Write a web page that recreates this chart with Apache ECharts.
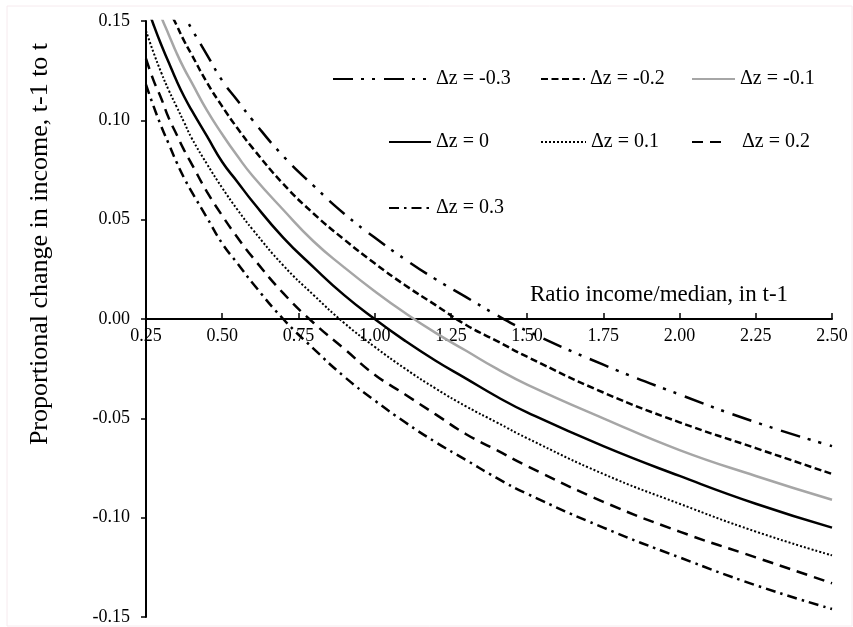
<!DOCTYPE html>
<html>
<head>
<meta charset="utf-8">
<script src="https://cdn.jsdelivr.net/npm/echarts@6/dist/echarts.min.js"></script>
<style>html,body{margin:0;padding:0;background:#fff}#c{width:853px;height:627px}</style>
</head>
<body>
<div id="c"></div>
<script>
// Ratio income/median in t-1 (x positions of read points)
var ratio = [0.25, 0.275, 0.3, 0.325, 0.35, 0.375, 0.4, 0.45, 0.5, 0.55, 0.6, 0.7, 0.8, 0.9, 1.0, 1.1, 1.2, 1.3, 1.4, 1.5, 1.75, 2.0, 2.25, 2.5];
// Proportional change in income
var dzM03 = [null, null, null, null, 0.161, 0.153, 0.146, 0.133, 0.120, 0.110, 0.100, 0.082, 0.067, 0.053, 0.041, 0.030, 0.020, 0.011, 0.002, -0.006, -0.023, -0.038, -0.052, -0.064];
var dzM02 = [null, null, 0.166, 0.156, 0.148, 0.140, 0.133, 0.119, 0.107, 0.096, 0.086, 0.068, 0.053, 0.040, 0.028, 0.017, 0.007, -0.003, -0.011, -0.019, -0.037, -0.052, -0.065, -0.078];
var dzM01 = [null, 0.162, 0.152, 0.143, 0.134, 0.126, 0.119, 0.105, 0.093, 0.082, 0.072, 0.055, 0.039, 0.026, 0.014, 0.003, -0.007, -0.016, -0.025, -0.033, -0.050, -0.066, -0.079, -0.091];
var dz0   = [0.159, 0.148, 0.138, 0.129, 0.120, 0.112, 0.105, 0.092, 0.079, 0.069, 0.059, 0.041, 0.026, 0.012, 0.000, -0.011, -0.021, -0.030, -0.039, -0.047, -0.064, -0.079, -0.093, -0.105];
var dzP01 = [0.145, 0.134, 0.124, 0.115, 0.107, 0.099, 0.091, 0.078, 0.066, 0.055, 0.045, 0.027, 0.012, -0.002, -0.014, -0.025, -0.035, -0.044, -0.052, -0.060, -0.078, -0.093, -0.107, -0.119];
var dzP02 = [0.131, 0.120, 0.111, 0.101, 0.093, 0.085, 0.078, 0.064, 0.052, 0.041, 0.031, 0.013, -0.002, -0.015, -0.028, -0.038, -0.048, -0.058, -0.066, -0.074, -0.092, -0.107, -0.120, -0.133];
var dzP03 = [0.118, 0.107, 0.097, 0.088, 0.079, 0.071, 0.064, 0.051, 0.038, 0.028, 0.018, 0.000, -0.015, -0.029, -0.041, -0.052, -0.062, -0.071, -0.080, -0.088, -0.105, -0.120, -0.134, -0.146];
var seriesNames = ['Δz = -0.3', 'Δz = -0.2', 'Δz = -0.1', 'Δz = 0', 'Δz = 0.1', 'Δz = 0.2', 'Δz = 0.3'];
var seriesValues = [dzM03, dzM02, dzM01, dz0, dzP01, dzP02, dzP03];
var yTicks = [-0.15, -0.10, -0.05, 0.00, 0.05, 0.10, 0.15];
var xTicks = [0.25, 0.50, 0.75, 1.00, 1.25, 1.50, 1.75, 2.00, 2.25, 2.50];
var yTitle = 'Proportional change in income, t-1 to t';
var xTitle = 'Ratio income/median, in t-1';

var FONT = 'Liberation Serif';
var styles = [
  {color: '#000', width: 2.5, type: [20, 8, 3, 8, 3, 9]},
  {color: '#000', width: 2.5, type: [7, 3.5]},
  {color: '#a6a6a6', width: 2.5, type: 'solid'},
  {color: '#000', width: 2.5, type: 'solid'},
  {color: '#000', width: 2, type: [2, 2]},
  {color: '#000', width: 2.5, type: [11, 7]},
  {color: '#000', width: 2.5, type: [10, 5, 2.5, 5]}
];
var legendPos = [
  {left: 332, y: 76, w: 93, pad: 5},
  {left: 540, y: 76, w: 44, pad: 0},
  {left: 691, y: 76, w: 43, pad: 0},
  {left: 388, y: 139, w: 42, pad: 0},
  {left: 540, y: 139, w: 45, pad: 0},
  {left: 691, y: 139, w: 29, pad: 16},
  {left: 388, y: 205, w: 42, pad: 0}
];

var series = seriesNames.map(function (n, i) {
  return {
    name: n,
    type: 'line',
    symbol: 'none',
    smooth: true,
    clip: true,
    lineStyle: {color: styles[i].color, width: styles[i].width, type: styles[i].type, cap: 'butt'},
    itemStyle: {color: styles[i].color, opacity: 0},
    data: ratio.map(function (x, k) { return [x, seriesValues[i][k]]; }).filter(function (p) { return p[1] !== null; })
  };
});

var legends = seriesNames.map(function (n, i) {
  var p = legendPos[i];
  return {
    data: [n],
    left: p.left,
    top: p.y - 7,
    padding: 0,
    itemWidth: p.w,
    itemHeight: 14,
    selectedMode: false,
    itemStyle: {opacity: 0},
    textStyle: {fontFamily: FONT, fontSize: 20, color: '#000', padding: [0, 0, 0, p.pad]}
  };
});

// grid geometry
var G = {left: 146, right: 21, top: 21, bottom: 10};
var plotH = 627 - G.top - G.bottom;
var zeroOffset = -plotH * (0 - yTicks[0]) / (yTicks[yTicks.length - 1] - yTicks[0]);

var chart = echarts.init(document.getElementById('c'), null, {renderer: 'canvas'});
chart.setOption({
  backgroundColor: '#fff',
  animation: false,
  grid: {left: G.left, right: G.right, top: G.top, bottom: G.bottom, containLabel: false, outerBoundsMode: 'none'},
  legend: legends,
  graphic: [
    {type: 'rect', shape: {x: 7, y: 6, width: 845, height: 620}, style: {fill: 'none', stroke: '#f6eaee', lineWidth: 1}, silent: true},
    {type: 'text', left: 530, top: 283, style: {text: xTitle, font: '23px "Liberation Serif"', fill: '#000'}},
    {type: 'text', x: 40, y: 244, rotation: Math.PI / 2, style: {text: yTitle, font: '26px "Liberation Serif"', fill: '#000', align: 'center', verticalAlign: 'middle'}}
  ],
  xAxis: {
    type: 'value',
    min: xTicks[0],
    max: xTicks[xTicks.length - 1],
    interval: 0.25,
    position: 'bottom',
    offset: zeroOffset,
    axisLine: {onZero: false, lineStyle: {color: '#000', width: 2}},
    axisTick: {inside: true, length: 6, lineStyle: {color: '#000', width: 1.5}},
    splitLine: {show: false},
    axisLabel: {fontFamily: FONT, fontSize: 18, color: '#000', margin: 8, formatter: function (v) { return v.toFixed(2); }}
  },
  yAxis: {
    type: 'value',
    min: yTicks[0],
    max: yTicks[yTicks.length - 1],
    interval: 0.05,
    axisLine: {lineStyle: {color: '#000', width: 2}},
    axisTick: {inside: false, length: 5, lineStyle: {color: '#000', width: 1.5}},
    splitLine: {show: false},
    axisLabel: {fontFamily: FONT, fontSize: 18, color: '#000', margin: 16, formatter: function (v) { return v.toFixed(2); }}
  },
  series: series
});
</script>
</body>
</html>
